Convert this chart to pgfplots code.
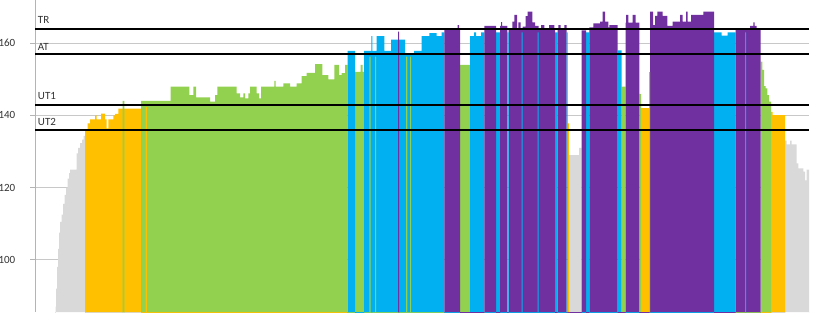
\documentclass[border=0pt]{standalone}
\usepackage{pgfplots}
\pgfplotsset{compat=1.18}
\usepackage{fontspec}
\setmainfont{Carlito}
\definecolor{cgray}{HTML}{D9D9D9}
\definecolor{corange}{HTML}{FFC000}
\definecolor{cgreen}{HTML}{92D050}
\definecolor{cblue}{HTML}{00B0F0}
\definecolor{cpurple}{HTML}{7030A0}
\definecolor{cgrid}{HTML}{C8C8C8}
\definecolor{caxis}{HTML}{B4B4B4}
\begin{document}
\begin{tikzpicture}
\path[use as bounding box] (0,0) rectangle (615pt,234pt);
\begin{axis}[
  at={(26.25pt,0pt)}, anchor=south west,
  scale only axis, width=580.5pt, height=234pt,
  xmin=35, xmax=809, ymin=85.5, ymax=172,
  axis x line=none, axis y line*=left,
  ytick={100,120,140,160}, xtick=\empty,
  ymajorgrids, grid style={draw=cgrid, line width=0.75pt},
  axis line style={draw=caxis, line width=0.75pt},
  tick align=outside, major tick length=3.75pt,
  tick style={draw=caxis, line width=0.75pt},
  yticklabel style={font=\fontsize{8.25}{10}\selectfont, text=black!80, xshift=-7.5pt},
  /pgf/number format/assume math mode=true,
  every axis plot/.append style={const plot, draw=none},
]
% gray
\addplot[fill=cgray] coordinates {
(55,0) (55.5,87) (56,92) (57,98) (58,103) (59,107.5) (60,110.5) (61.5,112.5) (63,115.5) (64.5,118) (66,120) (67.5,122.5) (69,124) (70,125) (76.5,129.5) (78,131) (80,132.3) (82,133.3) (83.5,134.3) (85,0)
(569,129) (579,131) (581.7,0)
(785,133) (786.7,132) (790,133) (791.7,132) (796.7,126.7) (798.3,125.3) (803.3,124.4) (805,122) (806.7,125) (809,0)
} \closedcycle;
% orange
\addplot[fill=corange] coordinates {
(85,0) (85,136.1) (87.5,137.8) (90,138.9) (95,140) (96.5,138.9) (101,140.5) (105,138.9) (106.7,136.4) (108.3,138.9) (113.3,140) (115,140.4) (118.3,141.9) (141,0)
(641,142) (650,0)
(771,141) (772.7,140.1) (785,0)
} \closedcycle;
% green
\addplot[fill=cgreen] coordinates {
(141,0) (141,144) (170.7,148) (189.3,145.6) (193.3,148) (196,145) (210,143.8) (215,145.6) (217.3,148) (236.7,146.1) (240,145) (243.3,146.1) (245,144.7) (248.3,146.1) (250,148) (256.7,146.1) (259,144.7) (261,148) (274.3,149.6) (275.7,148) (283.3,148.9) (290,148) (296.7,148.9) (301.7,150.9) (306.7,151.8) (315,154.2) (322.3,151.2) (328.3,150) (334.3,154) (339,151.2) (341.7,151.7) (345,154) (347.7,0)
(355,152.1) (360.7,154) (362.7,152.1) (364,0)
(460,154) (470,0)
(621.7,148) (625.7,0)
(639.3,146) (641,0)
(760.7,154.9) (762.3,152.6) (764,148.1) (765.7,147.5) (767.3,145.6) (769,143.8) (771,0)
} \closedcycle;
% blue
\addplot[fill=cblue] coordinates {
(347.7,0) (347.7,157.9) (355,0)
(364,157.9) (376.5,162) (384.3,157.9) (391,161) (405,157) (414,157.9) (421.7,162) (429.3,162.8) (436.7,162) (441.7,163) (444.3,0)
(470,162) (474,163) (476,162) (481,163) (484.3,0)
(496,163) (500,0)
(555,163) (557.7,0)
(586,163) (589.3,0)
(617.7,158) (621.7,0)
(714,163) (721.7,162.1) (727.7,163) (735.7,0)
} \closedcycle;
% purple
\addplot[fill=cpurple] coordinates {
(444.3,0) (444.3,164.2) (457.5,165) (459,164.2) (460,0)
(484.3,164.8) (496,0)
(500,164.8) (501,165.9) (502,164.8) (507.3,0)
(508.7,164.2) (512.3,166) (514.3,167.9) (517,164.2) (518.3,165.8) (520.7,164.2) (522.5,164.6) (525.7,167.5) (527.7,168.8) (532.3,165.8) (535,164.8) (538.5,164.2) (541,165) (544.3,164.2) (549,165) (554.3,164.2) (555,0)
(557.7,164.2) (558.3,165) (560.7,164.2) (564.3,165) (566.7,0)
(581.7,163.6) (586,0)
(589.3,164.4) (593.3,165.5) (600,166) (602.7,168.8) (605,166) (608.3,164.4) (609.3,165) (617.7,0)
(625.7,165.7) (626,167.9) (628.3,165.7) (632.7,167.9) (635.7,165.7) (639.3,0)
(650,168.8) (653,165) (655,167.6) (657.3,168.8) (662.7,167.6) (667.3,164.8) (672.7,166) (680,167.9) (682.7,166) (686,168.8) (687.7,166) (691,167.9) (703.3,168.8) (714,0)
(735.7,163.7) (750,164.8) (753.3,165.8) (754.7,164.8) (756.7,163.7) (760.7,0)
} \closedcycle;
% thin overlays, one segment each
\addplot[fill=cgreen] coordinates {(122.5,0) (122.5,144) (124.3,0)} \closedcycle;
\addplot[fill=cgreen] coordinates {(369.3,0) (369.3,156.3) (370.7,0)} \closedcycle;
\addplot[fill=cgreen] coordinates {(375,0) (375,156.3) (376,0)} \closedcycle;
\addplot[fill=cgreen] coordinates {(406,0) (406,156.3) (407.3,0)} \closedcycle;
\addplot[fill=cgreen] coordinates {(410,0) (410,156.3) (411,0)} \closedcycle;
\addplot[fill=cgreen] coordinates {(649,0) (649,152) (650,0)} \closedcycle;
\addplot[fill=corange] coordinates {(145.5,0) (145.5,142.4) (147,0)} \closedcycle;
\addplot[fill=corange] coordinates {(567.7,0) (567.7,137.8) (569,0)} \closedcycle;
\addplot[fill=cpurple] coordinates {(398,0) (398,163.2) (399,0)} \closedcycle;
\addplot[fill=cblue] coordinates {(371.3,0) (371.3,162) (372.3,0)} \closedcycle;
\addplot[fill=cblue] coordinates {(507.3,0) (507.3,163) (508.7,0)} \closedcycle;
\addplot[fill=cblue] coordinates {(521.7,0) (521.7,163) (522.7,0)} \closedcycle;
\addplot[fill=cblue] coordinates {(537.7,0) (537.7,163) (538.7,0)} \closedcycle;
\addplot[fill=cblue] coordinates {(566.7,0) (566.7,163) (567.7,0)} \closedcycle;
\addplot[fill=cblue] coordinates {(745,0) (745,163) (746,0)} \closedcycle;
% thresholds
\addplot[sharp plot, draw=black, line width=1.5pt] coordinates {(35,164) (809,164)};
\addplot[sharp plot, draw=black, line width=1.5pt] coordinates {(35,157) (809,157)};
\addplot[sharp plot, draw=black, line width=1.5pt] coordinates {(35,143) (809,143)};
\addplot[sharp plot, draw=black, line width=1.5pt] coordinates {(35,136) (809,136)};
\node[anchor=base west, inner sep=0pt, font=\fontsize{8.25}{10}\selectfont, text=black!80] at (axis cs:37.7,165.4) {TR};
\node[anchor=base west, inner sep=0pt, font=\fontsize{8.25}{10}\selectfont, text=black!80] at (axis cs:37.7,158.1) {AT};
\node[anchor=base west, inner sep=0pt, font=\fontsize{8.25}{10}\selectfont, text=black!80] at (axis cs:37.7,144.5) {UT1};
\node[anchor=base west, inner sep=0pt, font=\fontsize{8.25}{10}\selectfont, text=black!80] at (axis cs:37.7,137.1) {UT2};
\end{axis}
\end{tikzpicture}
\end{document}
